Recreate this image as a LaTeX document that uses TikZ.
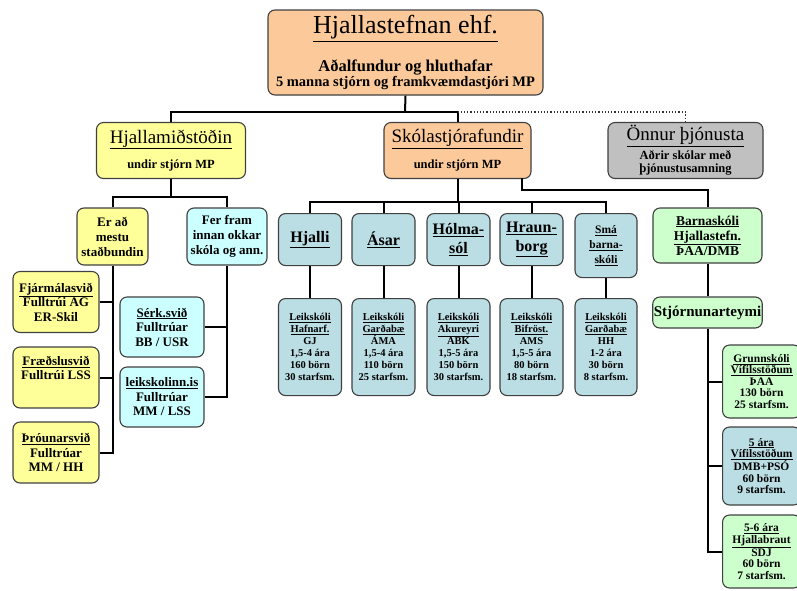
\documentclass[tikz,border=0pt]{standalone}
\usepackage{fontspec}
\setmainfont{Liberation Serif}
\definecolor{ferskja}{RGB}{252,202,154}
\definecolor{gulur}{RGB}{255,255,153}
\definecolor{ljosblar}{RGB}{204,255,255}
\definecolor{grar}{RGB}{192,192,192}
\definecolor{blagraenn}{RGB}{186,222,228}
\definecolor{graenn}{RGB}{204,255,204}
\newcommand{\hausletur}[1]{{\fontsize{19}{20}\selectfont\mdseries\underline{#1}}}
\tikzset{
kassi/.style={draw=black!75, line width=1.1pt, rounded corners=7pt, align=center, inner sep=1pt, font=\bfseries},
tengi/.style={line width=2pt, black},
punktar/.style={line width=1.2pt, black!80, dotted},
haus/.style={kassi, minimum width=149, minimum height=56, font=\fontsize{12.5}{13}\selectfont\bfseries},
midkassi/.style={kassi, minimum height=57, font=\fontsize{13}{15}\selectfont\bfseries},
svid/.style={kassi, minimum width=86, minimum height=61, font=\fontsize{13}{14.5}\selectfont\bfseries},
skoli/.style={kassi, fill=blagraenn, minimum width=63, minimum height=52, anchor=north, font=\fontsize{16}{19}\selectfont\bfseries},
leikskoli/.style={kassi, fill=blagraenn, minimum width=63, minimum height=97, anchor=north, font=\fontsize{10.5}{12}\selectfont\bfseries},
haegri/.style={kassi, fill=graenn, minimum width=78, minimum height=73, anchor=west, font=\fontsize{11.5}{11.5}\selectfont\bfseries}
}

\begin{document}
\begin{tikzpicture}[x=1pt, y=-1pt]
\useasboundingbox (0,0) rectangle (797,590);
\clip (0,0) rectangle (797,590);

\node[kassi, fill=ferskja, minimum width=275, minimum height=85, font=\fontsize{14.5}{14}\selectfont\bfseries] (hjs) at (405.5,52.5)
  {{\fontsize{26}{28}\selectfont\mdseries\underline{Hjallastefnan ehf.}}\\[17pt]{\fontsize{16.5}{14}\selectfont Aðalfundur og hluthafar}\\[1pt]5 manna stjórn og framkvæmdastjóri MP};

\node[haus, fill=gulur] (hjm) at (171,150.5) {\hausletur{Hjallamiðstöðin}\\[10pt]undir stjórn MP};
\node[haus, fill=ferskja, minimum width=147] (skf) at (457.5,150.5) {\hausletur{Skólastjórafundir}\\[10pt]undir stjórn MP};
\node[haus, fill=grar, minimum width=155] (onn) at (685.5,150.5) {\hausletur{Önnur þjónusta}\\[3pt]Aðrir skólar með\\þjónustusamning};

\node[midkassi, fill=gulur, minimum width=71] (erad) at (112.5,236.5) {Er að\\mestu\\staðbundin};
\node[midkassi, fill=ljosblar, minimum width=80] (ferf) at (227,236.5) {Fer fram\\innan okkar\\skóla og ann.};

\node[svid, fill=gulur] (fjar) at (56,302) {\underline{Fjármálasvið}\\Fulltrúi AG\\ER-Skil};
\node[svid, fill=gulur] (fraed) at (56,377.5) {\underline{Fræðslusvið}\\Fulltrúi LSS\\\strut};
\node[svid, fill=gulur] (throun) at (56,452.5) {\underline{Þróunarsvið}\\Fulltrúar\\MM / HH};
\node[svid, fill=ljosblar, minimum width=84, minimum height=60] (serk) at (162,327) {\underline{Sérk.svið}\\Fulltrúar\\BB / USR};
\node[svid, fill=ljosblar, minimum width=84, minimum height=60] (leikis) at (162,397) {\underline{leikskolinn.is}\\Fulltrúar\\MM / LSS};

\node[skoli] (hjalli) at (310,213) {\underline{Hjalli}};
\node[skoli] (asar) at (383.5,213) {\underline{Ásar}};
\node[skoli] (holma) at (458.5,213) {\underline{Hólma-}\\\underline{sól}};
\node[skoli] (hraun) at (531.5,213) {\underline{Hraun-}\\\underline{borg}};
\node[skoli, minimum width=62, minimum height=64, font=\fontsize{11.5}{15}\selectfont\bfseries] (sma) at (606,213) {\underline{Smá}\\\underline{barna-}\\\underline{skóli}};

\node[leikskoli] (lhjalli) at (310,298) {\underline{Leikskóli}\\\underline{Hafnarf.}\\GJ\\1,5-4 ára\\160 börn\\30 starfsm.};
\node[leikskoli] (lasar) at (383.5,298) {\underline{Leikskóli}\\\underline{Garðabæ}\\ÁMA\\1,5-4 ára\\110 börn\\25 starfsm.};
\node[leikskoli] (lholma) at (458.5,298) {\underline{Leikskóli}\\\underline{Akureyri}\\ABK\\1,5-5 ára\\150 börn\\30 starfsm.};
\node[leikskoli] (lhraun) at (531.5,298) {\underline{Leikskóli}\\\underline{Bifröst.}\\AMS\\1,5-5 ára\\80 börn\\18 starfsm.};
\node[leikskoli, minimum width=62] (lsma) at (606,298) {\underline{Leikskóli}\\\underline{Garðabæ}\\HH\\1-2 ára\\30 börn\\8 starfsm.};

\node[kassi, fill=graenn, minimum width=109, minimum height=55, font=\fontsize{13.5}{15}\selectfont\bfseries] (barn) at (707.5,235.5) {\underline{Barnaskóli}\\\underline{Hjallastefn.}\\ÞAA/DMB};
\node[kassi, fill=graenn, minimum width=109, minimum height=31, font=\fontsize{15}{16}\selectfont\bfseries] (stjt) at (707.5,312.5) {Stjórnunarteymi};

\node[haegri] (grunn) at (722,381.5) {\underline{Grunnskóli}\\\underline{Vífilsstöðum}\\ÞAA\\130 börn\\25 starfsm.};
\node[haegri, fill=blagraenn, minimum height=78] (fimm) at (722,466) {\underline{5 ára}\\\underline{Vífilsstöðum}\\DMB+PSÓ\\60 börn\\9 starfsm.};
\node[haegri] (fimmsex) at (722,551.5) {\underline{5-6 ára}\\\underline{Hjallabraut}\\SDJ\\60 börn\\7 starfsm.};

\coordinate (bus1) at (405,112);
\draw[tengi] (hjs.south) -- (bus1);
\draw[tengi] (hjm.north) -- (hjm.north |- bus1) -- (skf.north |- bus1) -- (skf.north);
\draw[punktar] (skf.north |- bus1) -- (onn.north |- bus1) -- (onn.north);

\coordinate (bus2) at (171,197);
\draw[tengi] (hjm.south) -- (bus2);
\draw[tengi] (erad.north) -- (erad.north |- bus2) -- (ferf.north |- bus2) -- (ferf.north);
\draw[tengi] (erad.south) |- (throun.east);
\draw[tengi] (fjar.east) -- (fjar.east -| erad.south);
\draw[tengi] (fraed.east) -- (fraed.east -| erad.south);
\draw[tengi] (ferf.south) |- (leikis.east);
\draw[tengi] (serk.east) -- (serk.east -| ferf.south);

\coordinate (bus3) at (457.5,202);
\draw[tengi] (skf.south) -- (bus3);
\draw[tengi] (hjalli.north) -- (hjalli.north |- bus3) -- (sma.north |- bus3) -- (sma.north);
\foreach \s in {asar,holma,hraun}
  \draw[tengi] (\s.north) -- (\s.north |- bus3);
\foreach \s in {hjalli,asar,holma,hraun,sma}
  \draw[tengi] (\s.south) -- (l\s.north);

\coordinate (skfr) at (522,178);
\coordinate (bus4) at (522,190);
\draw[tengi] (skfr) -- (bus4) -| (barn.north);
\draw[tengi] (barn.south) -- (stjt.north);
\draw[tengi] (stjt.south) |- (fimmsex.west);
\draw[tengi] (grunn.west) -- (grunn.west -| stjt.south);
\draw[tengi] (fimm.west) -- (fimm.west -| stjt.south);
\end{tikzpicture}
\end{document}
